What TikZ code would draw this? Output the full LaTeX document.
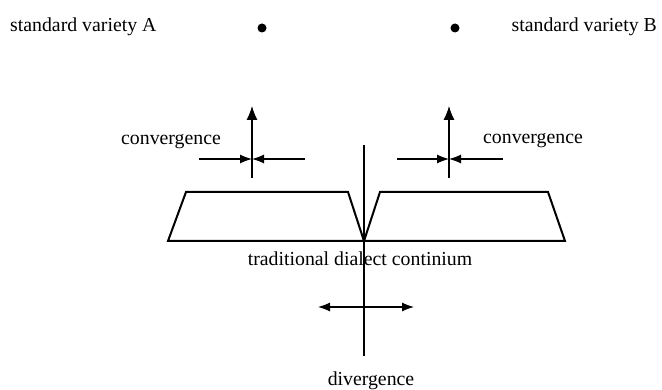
\documentclass[tikz,border=0pt]{standalone}
\usepackage{fontspec}
\setmainfont{Liberation Serif}
\usepackage{tikz}
\usetikzlibrary{arrows.meta, positioning}

\begin{document}
\begin{tikzpicture}[x=1pt, y=-1pt, every node/.style={font=\fontsize{19.8}{23}\selectfont, inner sep=0pt},
    dot/.style={circle, fill=black, minimum width=8pt, minimum height=9pt},
    shift arrow/.style={-{Latex[length=12pt,width=9pt]}, line width=1.1pt},
    rise arrow/.style={-{Latex[length=14pt,width=11pt]}, line width=1.1pt},
    area/.style={line width=2pt, line join=miter}]
  \useasboundingbox (0,0) rectangle (662,390);
  % the two standards
  \node[anchor=base west] (stdA) at (10,32) {standard variety A};
  \node[dot] (dotA) at (262,28) {};
  \node[dot] (dotB) at (455,28) {};
  \node[anchor=base east] (stdB) at (657,32) {standard variety B};
  % dialect areas
  \coordinate (apex) at (364,241);
  \draw[area] (apex) -- (348,192) -- (186,192) -- (168,241) -- (565,241) -- (548,192) -- (380,192) -- cycle;
  \node[anchor=base] (cont) at (360,266) {traditional dialect continium};
  % left convergence
  \coordinate (lc) at (252,159);
  \coordinate (ltop) at (252,106);
  \coordinate (lbot) at (252,178);
  \coordinate (lw) at (199,159);
  \coordinate (le) at (305,159);
  \draw[rise arrow] (lbot) -- (ltop);
  \draw[shift arrow] (lw) -- (lc);
  \draw[shift arrow] (le) -- (lc);
  \node[anchor=base west] (convA) at (121,145) {convergence};
  % right convergence
  \coordinate (rc) at (449,159);
  \coordinate (rtop) at (449,106);
  \coordinate (rbot) at (449,178);
  \coordinate (rw) at (397,159);
  \coordinate (re) at (503,159);
  \draw[rise arrow] (rbot) -- (rtop);
  \draw[shift arrow] (rw) -- (rc);
  \draw[shift arrow] (re) -- (rc);
  \node[anchor=base west] (convB) at (483,144) {convergence};
  % divergence
  \coordinate (axtop) at (364,145);
  \coordinate (axbot) at (364,356);
  \coordinate (dw) at (318,307);
  \coordinate (de) at (414,307);
  \draw[line width=1.1pt] (axtop) -- (axbot);
  \draw[shift arrow, {Latex[length=12pt,width=9pt]}-{Latex[length=12pt,width=9pt]}] (dw) -- (de);
  \node[anchor=base] (div) at (371,385) {divergence};
\end{tikzpicture}
\end{document}
